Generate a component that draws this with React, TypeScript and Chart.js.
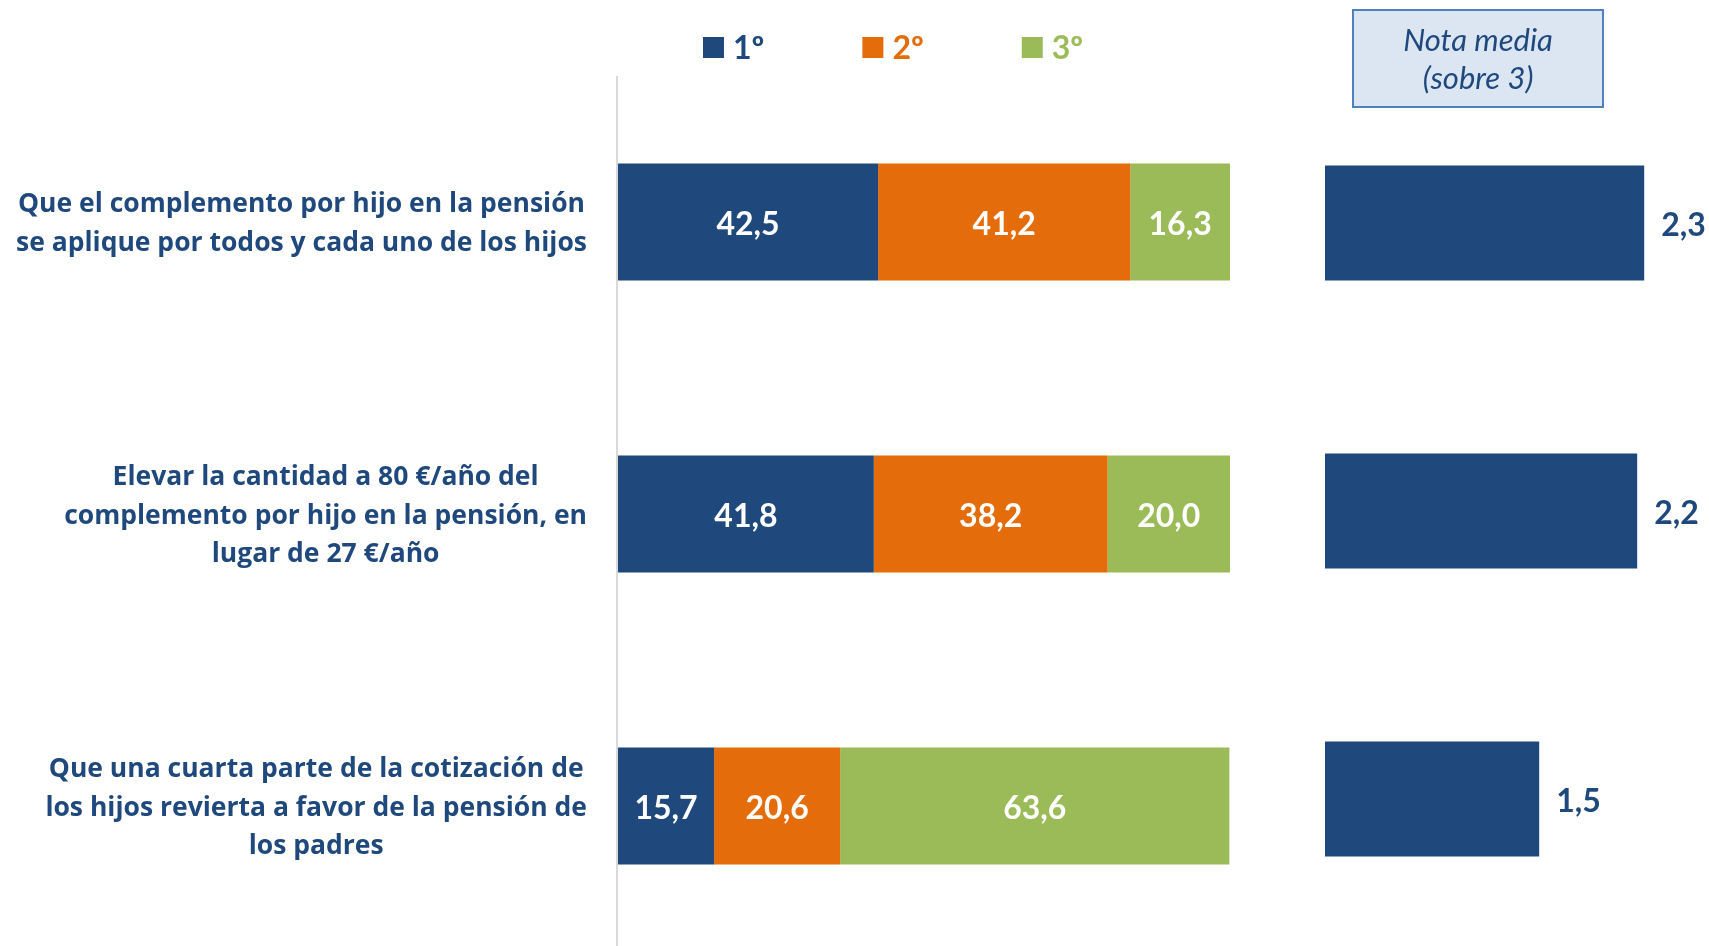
import React, { useEffect, useRef } from 'react';
import { Chart, registerables } from 'chart.js';

Chart.register(...registerables);

const categories: string[][] = [
  ['Que el complemento por hijo en la pensión', 'se aplique por todos y cada uno de los hijos'],
  ['Elevar la cantidad a 80 €/año del', 'complemento por hijo en la pensión, en', 'lugar de 27 €/año'],
  ['Que una cuarta parte de la cotización de', 'los hijos revierta a favor de la pensión de', 'los padres'],
];
const seriesNames = ['1º', '2º', '3º'];
const firstPlace = [42.5, 41.8, 15.7];
const secondPlace = [41.2, 38.2, 20.6];
const thirdPlace = [16.3, 20.0, 63.6];
const meanScores = [2.28, 2.23, 1.53];
const meanTitle = ['Nota media', '(sobre 3)'];

const BLUE = '#1f497d';
const ORANGE = '#e46c0a';
const GREEN = '#9bbb59';
const seriesColors = [BLUE, ORANGE, GREEN];
const FONT = 'Lato, "Open Sans", "DejaVu Sans", sans-serif';
const LABEL_FONT = '"Open Sans", Lato, "DejaVu Sans", sans-serif';

const fmt = (v: number) => v.toFixed(1).replace('.', ',');

const leftPlugin = {
  id: 'leftDecor',
  beforeDatasetsDraw(chart: any) {
    const { ctx, chartArea } = chart;
    ctx.save();
    ctx.strokeStyle = '#d9d9d9';
    ctx.lineWidth = 2;
    ctx.beginPath();
    ctx.moveTo(chartArea.left - 1, chartArea.top);
    ctx.lineTo(chartArea.left - 1, chartArea.bottom);
    ctx.stroke();
    ctx.restore();
  },
  afterDatasetsDraw(chart: any) {
    const { ctx, chartArea } = chart;
    ctx.save();
    // values inside the segments
    ctx.font = `bold 32px ${FONT}`;
    ctx.fillStyle = '#ffffff';
    ctx.textAlign = 'center';
    ctx.textBaseline = 'middle';
    chart.data.datasets.forEach((ds: any, di: number) => {
      const meta = chart.getDatasetMeta(di);
      meta.data.forEach((el: any, i: number) => {
        const cx = (el.x + el.base) / 2;
        ctx.fillText(fmt(ds.data[i]), cx, el.y + 3);
      });
    });
    // category labels
    const yScale = chart.scales.y;
    ctx.font = `bold 26.5px ${LABEL_FONT}`;
    ctx.fillStyle = BLUE;
    const lh = 38.5;
    categories.forEach((lines, i) => {
      const y = yScale.getPixelForValue(i) + 2;
      const maxW = Math.max(...lines.map((l) => ctx.measureText(l).width));
      const right = chartArea.left - 31;
      const cx = right - maxW / 2;
      const y0 = y - ((lines.length - 1) / 2) * lh;
      lines.forEach((l, k) => ctx.fillText(l, cx, y0 + k * lh));
    });
    // legend
    ctx.font = `bold 32px ${FONT}`;
    ctx.textAlign = 'left';
    let x = chartArea.left + 85;
    const ly = 47;
    seriesNames.forEach((name, k) => {
      ctx.fillStyle = seriesColors[k];
      ctx.fillRect(x, ly - 10, 21, 21);
      ctx.fillText(name, x + 30, ly + 2);
      x += 30 + ctx.measureText(name).width + 98;
    });
    ctx.restore();
  },
};

const rightPlugin = {
  id: 'rightDecor',
  afterDatasetsDraw(chart: any) {
    const { ctx, chartArea } = chart;
    ctx.save();
    ctx.font = `bold 32px ${FONT}`;
    ctx.fillStyle = BLUE;
    ctx.textAlign = 'left';
    ctx.textBaseline = 'middle';
    const meta = chart.getDatasetMeta(0);
    meta.data.forEach((el: any, i: number) => {
      ctx.fillText(fmt(chart.data.datasets[0].data[i]), el.x + 17, el.y + 3);
    });
    // title box
    const bx = chartArea.left + 28;
    const bw = 250;
    ctx.fillStyle = '#dce6f2';
    ctx.fillRect(bx, 10, bw, 97);
    ctx.strokeStyle = '#4f81bd';
    ctx.lineWidth = 2;
    ctx.strokeRect(bx, 10, bw, 97);
    ctx.font = `italic 31px ${FONT}`;
    ctx.fillStyle = BLUE;
    ctx.textAlign = 'center';
    ctx.fillText(meanTitle[0], bx + bw / 2, 41);
    ctx.fillText(meanTitle[1], bx + bw / 2, 79);
    ctx.restore();
  },
};

export default function App() {
  const leftRef = useRef<HTMLCanvasElement>(null);
  const rightRef = useRef<HTMLCanvasElement>(null);

  useEffect(() => {
    const labels = categories.map((c) => c.join(' '));
    const left = new Chart(leftRef.current as HTMLCanvasElement, {
      type: 'bar',
      data: {
        labels,
        datasets: [
          { label: seriesNames[0], data: firstPlace, backgroundColor: BLUE },
          { label: seriesNames[1], data: secondPlace, backgroundColor: ORANGE },
          { label: seriesNames[2], data: thirdPlace, backgroundColor: GREEN },
        ],
      },
      options: {
        indexAxis: 'y',
        animation: false,
        responsive: false,
        maintainAspectRatio: false,
        layout: { padding: { left: 618, right: 30, top: 76, bottom: 0 } },
        datasets: { bar: { barPercentage: 1, categoryPercentage: 0.4, borderWidth: 0 } },
        scales: {
          x: { stacked: true, min: 0, max: 100, display: false },
          y: { stacked: true, display: false },
        },
        plugins: { legend: { display: false }, tooltip: { enabled: false } },
      },
      plugins: [leftPlugin],
    } as any);

    const right = new Chart(rightRef.current as HTMLCanvasElement, {
      type: 'bar',
      data: {
        labels,
        datasets: [{ label: 'Nota media', data: meanScores, backgroundColor: BLUE }],
      },
      options: {
        indexAxis: 'y',
        animation: false,
        responsive: false,
        maintainAspectRatio: false,
        layout: { padding: { left: 65, right: 20, top: 79, bottom: 3 } },
        datasets: { bar: { barPercentage: 1, categoryPercentage: 0.4, borderWidth: 0 } },
        scales: {
          x: { min: 0, max: 2.6, display: false },
          y: { display: false },
        },
        plugins: { legend: { display: false }, tooltip: { enabled: false } },
      },
      plugins: [rightPlugin],
    } as any);

    return () => {
      left.destroy();
      right.destroy();
    };
  }, []);

  return (
    <div
      style={{
        position: 'fixed',
        top: 0,
        left: 0,
        width: 1709,
        height: 946,
        overflow: 'hidden',
        background: '#ffffff',
      }}
    >
      <canvas
        ref={leftRef}
        width={1260}
        height={952}
        style={{ position: 'absolute', left: 0, top: 0, width: 1260, height: 952 }}
      />
      <canvas
        ref={rightRef}
        width={449}
        height={946}
        style={{ position: 'absolute', left: 1260, top: 0, width: 449, height: 946 }}
      />
    </div>
  );
}
